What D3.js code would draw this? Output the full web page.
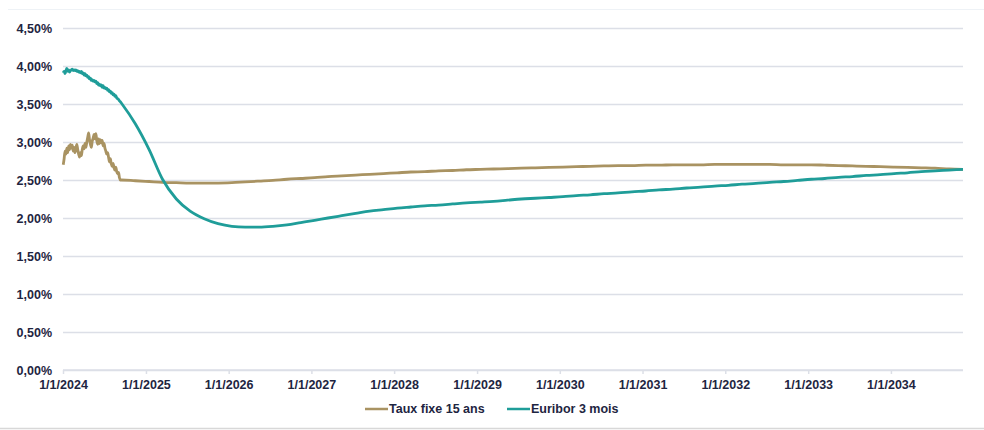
<!DOCTYPE html>
<html>
<head>
<meta charset="utf-8">
<script src="https://cdn.jsdelivr.net/npm/d3@7"></script>
<style>
  html, body { margin: 0; padding: 0; background: #fff; }
  svg { display: block; font-family: "Liberation Sans", Arial, sans-serif; }
</style>
</head>
<body>
<div id="chart"></div>
<script>
// ---- data ----
const seriesNames = ["Taux fixe 15 ans", "Euribor 3 mois"];
const seriesColors = ["#a99362", "#1f9d99"];

// observed values, one every 4 days from 2 Jan 2024
const histStart = new Date(2024, 0, 2);
const histStepDays = 4;
const tauxHist = [
  2.70, 2.78, 2.88, 2.84, 2.92, 2.86, 2.95, 2.90, 2.97, 2.92,
  2.96, 2.88, 2.93, 2.86, 2.92, 2.97, 2.90, 2.84, 2.80, 2.86,
  2.82, 2.90, 2.95, 2.91, 2.98, 2.93, 3.00, 3.06, 3.12, 3.03,
  2.97, 2.93, 3.01, 3.05, 3.10, 3.04, 3.11, 3.02, 2.97, 3.04,
  2.98, 3.03, 2.99, 3.02, 2.95, 2.98, 2.92, 2.88, 2.84, 2.86,
  2.80, 2.74, 2.78, 2.71, 2.68, 2.72, 2.66, 2.63, 2.67, 2.61,
  2.58, 2.60, 2.53, 2.50
];
const euriborHist = [
  3.91, 3.93, 3.90, 3.94, 3.97, 3.93, 3.95, 3.92, 3.94, 3.95,
  3.96, 3.94, 3.95, 3.94, 3.95, 3.93, 3.94, 3.92, 3.93, 3.91,
  3.93, 3.90, 3.91, 3.88, 3.90, 3.87, 3.88, 3.85, 3.86, 3.83,
  3.84, 3.81, 3.82, 3.80, 3.81, 3.79, 3.80, 3.77, 3.78, 3.75,
  3.76, 3.74, 3.75, 3.72, 3.74, 3.71, 3.72, 3.70, 3.71, 3.68,
  3.69, 3.66, 3.67, 3.64, 3.65, 3.62, 3.63, 3.60, 3.61, 3.58,
  3.57, 3.56, 3.54, 3.53
];

// forward curve, one point every 2 months from 15 Sep 2024
const fwdStart = new Date(2024, 8, 15);
const fwdStepMonths = 2;
const tauxFwd = [
  2.50, 2.49, 2.48, 2.47, 2.465, 2.46, 2.46, 2.46, 2.465, 2.475,
  2.485, 2.495, 2.51, 2.52, 2.53, 2.545, 2.555, 2.565, 2.575, 2.585,
  2.595, 2.605, 2.61, 2.62, 2.625, 2.635, 2.64, 2.645, 2.65, 2.655,
  2.66, 2.665, 2.67, 2.675, 2.68, 2.685, 2.69, 2.69, 2.695, 2.695,
  2.70, 2.70, 2.70, 2.705, 2.705, 2.705, 2.705, 2.705, 2.70, 2.70,
  2.70, 2.695, 2.69, 2.685, 2.68, 2.675, 2.67, 2.665, 2.66, 2.655,
  2.645, 2.64
];
const euriborFwd = [
  3.51, 3.24, 2.90, 2.51, 2.25, 2.09, 1.99, 1.925, 1.89, 1.88,
  1.88, 1.89, 1.91, 1.94, 1.97, 2.00, 2.03, 2.06, 2.09, 2.11,
  2.13, 2.145, 2.16, 2.17, 2.185, 2.20, 2.21, 2.22, 2.235, 2.25,
  2.26, 2.27, 2.28, 2.295, 2.305, 2.32, 2.33, 2.345, 2.355, 2.37,
  2.38, 2.395, 2.405, 2.42, 2.43, 2.445, 2.455, 2.47, 2.48, 2.495,
  2.51, 2.52, 2.535, 2.545, 2.56, 2.57, 2.585, 2.595, 2.61, 2.62,
  2.63, 2.64
];

const yTicks = [0, 0.5, 1, 1.5, 2, 2.5, 3, 3.5, 4, 4.5];
const xStart = new Date(2024, 0, 1);
const xEnd = new Date(2034, 10, 15);

// ---- layout ----
const width = 984, height = 430;
const plot = { left: 63, right: 963, top: 28, bottom: 370 };
const textColor = "#1e2541";
const gridColor = "#dcdfe7";

const svg = d3.select("#chart").append("svg")
  .attr("width", width)
  .attr("height", height);

svg.append("rect").attr("width", width).attr("height", height).attr("fill", "#fff");
svg.append("line").attr("x1", 8).attr("x2", width).attr("y1", 9.5).attr("y2", 9.5)
  .attr("stroke", "#eef2f6").attr("stroke-width", 1);
svg.append("line").attr("x1", 0).attr("x2", width).attr("y1", 428.5).attr("y2", 428.5)
  .attr("stroke", "#d8d8d8").attr("stroke-width", 1.5);

// ---- scales ----
const x = d3.scaleTime().domain([xStart, xEnd]).range([plot.left, plot.right]);
const y = d3.scaleLinear().domain([0, 4.5]).range([plot.bottom, plot.top]);

const fr = d3.formatLocale({ decimal: ",", thousands: " ", grouping: [3], currency: ["", " €"] });
const pct = d => fr.format(".2f")(d) + "%";

// ---- grid + y labels ----
const yAxis = svg.append("g")
  .attr("transform", `translate(${plot.left},0)`)
  .call(d3.axisLeft(y).tickValues(yTicks).tickFormat(pct)
    .tickSize(-(plot.right - plot.left)).tickPadding(11));
yAxis.select(".domain").remove();
yAxis.selectAll(".tick line")
  .attr("stroke", gridColor).attr("stroke-width", 1.5);
yAxis.selectAll(".tick text")
  .attr("fill", textColor).style("font-size", "12.5px").style("font-weight", "bold");

// ---- x axis ----
const xAxis = svg.append("g")
  .attr("transform", `translate(0,${plot.bottom})`)
  .call(d3.axisBottom(x).ticks(d3.timeYear.every(1))
    .tickFormat(d3.timeFormat("1/1/%Y")).tickSize(4).tickPadding(6));
xAxis.select(".domain").attr("stroke", gridColor).attr("stroke-width", 1.5)
  .attr("d", `M${plot.left},0H${plot.right}`);
xAxis.selectAll(".tick line").attr("stroke", gridColor).attr("stroke-width", 1.5);
xAxis.selectAll(".tick text")
  .attr("fill", textColor).style("font-size", "12.5px").style("font-weight", "bold");

// ---- series ----
function build(hist, fwd) {
  const pts = hist.map((v, i) => ({ date: d3.timeDay.offset(histStart, i * histStepDays), value: v }));
  fwd.forEach((v, k) => pts.push({ date: d3.timeMonth.offset(fwdStart, k * fwdStepMonths), value: v }));
  return pts;
}
const series = [build(tauxHist, tauxFwd), build(euriborHist, euriborFwd)];

const line = d3.line()
  .x(d => x(d.date))
  .y(d => y(d.value))
  .curve(d3.curveMonotoneX);

svg.append("g").selectAll("path")
  .data(series)
  .join("path")
  .attr("d", line)
  .attr("fill", "none")
  .attr("stroke", (d, i) => seriesColors[i])
  .attr("stroke-width", 2.8)
  .attr("stroke-linejoin", "round");

// ---- legend ----
const legendX = [365, 507];
const legend = svg.append("g").attr("transform", "translate(0,409)");
seriesNames.forEach((name, i) => {
  const g = legend.append("g").attr("transform", `translate(${legendX[i]},0)`);
  g.append("line").attr("x1", 0).attr("x2", 23)
    .attr("stroke", seriesColors[i]).attr("stroke-width", 2.5);
  g.append("text").attr("x", 24).attr("dy", "0.35em")
    .attr("fill", textColor).style("font-size", "12.5px").style("font-weight", "bold")
    .text(name);
});
</script>
</body>
</html>
